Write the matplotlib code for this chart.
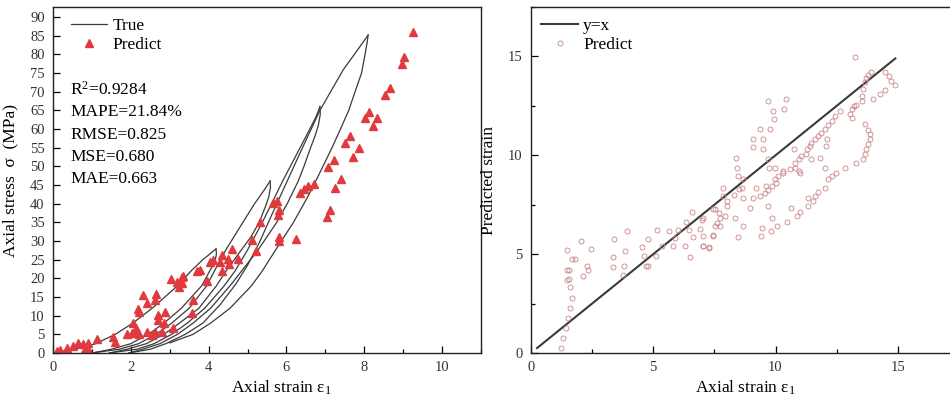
import numpy as np
import matplotlib
matplotlib.use("Agg")
import matplotlib.pyplot as plt
from matplotlib.ticker import MultipleLocator

plt.rcParams['font.family'] = ['Liberation Serif', 'DejaVu Serif']
plt.rcParams['mathtext.fontset'] = 'custom'
plt.rcParams['mathtext.rm'] = 'Liberation Serif'
plt.rcParams['mathtext.it'] = 'Liberation Serif:italic'

# ---- left panel: cyclic loading curve, (strain, stress) points of each branch
load_1 = [(0, 0), (0.55, 1), (1.1, 2.5), (1.6, 5), (2.05, 8), (2.55, 12), (3.2, 18),
          (3.55, 22), (3.85, 25), (4.19, 27.9)]
unload_1 = [(4.19, 27.9), (4.2, 26.5), (4.17, 25), (4.11, 23.5), (4.03, 22), (3.82, 18),
            (3.3, 12), (2.85, 8), (2.45, 5), (2.0, 2.5), (1.5, 1), (1.0, 0)]
load_2 = [(1.0, 0), (1.7, 1), (2.2, 2.5), (2.65, 5), (3.05, 8), (3.5, 12), (3.95, 18),
          (4.15, 22), (4.44, 27.6), (4.88, 35), (5.18, 40), (5.45, 44), (5.58, 46.1)]
unload_2 = [(5.58, 46.1), (5.59, 44.5), (5.55, 42), (5.47, 39.5), (5.3, 35), (5.08, 31),
            (4.84, 27.6), (4.45, 22), (4.2, 18), (3.75, 12), (3.25, 8), (2.85, 5), (2.4, 2.5),
            (1.9, 1), (1.45, 0)]
load_3 = [(1.45, 0), (2.15, 1), (2.6, 2.5), (3.05, 5), (3.45, 8), (3.9, 12), (4.4, 18),
          (4.68, 22), (5.0, 27.6), (5.38, 35), (5.9, 46), (6.35, 55), (6.6, 60), (6.77, 63.5),
          (6.86, 66)]
unload_3 = [(6.86, 66), (6.87, 64), (6.82, 61), (6.73, 58), (6.62, 55), (6.45, 50), (6.3, 46),
            (6.02, 40), (5.75, 35), (5.27, 27.6), (4.85, 22), (4.55, 18), (4.05, 12), (3.6, 8),
            (3.2, 5), (2.75, 2.5), (2.3, 1), (1.95, 0)]
load_4 = [(1.95, 0), (2.5, 1), (2.9, 2.5), (3.4, 5), (3.85, 8), (4.3, 13), (4.7, 18.5),
          (5.0, 23.5), (5.3, 29.5), (5.6, 36.5), (5.95, 44.5), (6.35, 53.6), (6.86, 65),
          (7.46, 75.9), (7.8, 80.8), (8.1, 85.2)]
unload_4 = [(8.1, 85.2), (8.07, 83), (8.02, 80), (7.93, 75), (7.81, 71.4), (7.6, 65),
            (7.38, 59.8), (7.17, 55), (6.98, 50.9), (6.75, 46), (6.55, 41.9), (6.18, 35),
            (5.72, 27.6), (5.38, 22), (5.1, 18), (4.55, 12), (4.05, 8), (3.6, 5), (3.0, 2.7)]

pred_strain = [9.25, 9.02, 8.97, 8.66, 8.54, 8.13, 8.02, 8.32, 8.23, 7.64, 7.50, 7.87, 7.70,
               7.22, 7.07, 7.40, 7.26, 7.12, 7.05, 6.35, 6.45, 6.55, 6.70,
               5.66, 5.75, 5.81, 5.77, 5.32, 5.11, 5.81, 5.81, 6.25, 5.22, 4.59, 4.76, 4.51,
               4.34, 4.29, 4.53, 4.04, 4.12, 4.34, 3.78, 3.95, 3.69, 3.33, 3.31, 3.59, 3.56,
               3.03, 3.18, 3.31, 3.25, 2.32, 2.65, 2.62, 2.41, 2.18, 2.22, 2.71, 2.88, 2.85,
               2.71, 3.09, 2.06, 2.13, 2.17, 2.22, 1.89, 2.02, 2.41, 2.62, 2.79, 2.54, 1.55,
               1.59, 1.12, 0.91, 0.78, 0.82, 0.93, 0.52, 0.35, 0.18, 0.10, 0.65]
pred_stress = [85.9, 79.4, 77.5, 71.0, 69.2, 64.7, 63.1, 62.9, 60.7, 58.2, 56.4, 54.9, 52.5,
               51.7, 49.9, 46.6, 44.1, 38.3, 36.4, 42.9, 44.0, 44.8, 45.3,
               40.3, 40.6, 38.3, 37.0, 35.2, 30.3, 31.0, 30.0, 30.5, 27.2, 27.9, 25.1, 25.1,
               26.3, 24.5, 23.9, 24.5, 24.9, 22.1, 22.3, 19.4, 22.0, 20.5, 18.7, 14.2, 10.8,
               19.8, 19.1, 20.3, 17.8, 15.6, 15.8, 14.2, 13.5, 11.7, 11.1, 10.2, 11.1, 8.0,
               8.8, 6.8, 8.1, 6.6, 5.7, 5.0, 5.1, 5.4, 5.7, 5.7, 5.7, 4.8, 4.4,
               3.0, 3.7, 2.8, 2.3, 1.0, 0.4, 1.9, 1.3, 0.8, 0.4, 2.6]

metrics = ["R$^2$=0.9284", "MAPE=21.84%", "RMSE=0.825", "MSE=0.680", "MAE=0.663"]

# ---- right panel: true strain vs predicted strain
line_x = [0.25, 14.9]
true_eps = [1.21, 1.30, 1.43, 1.53, 1.59, 1.66, 1.59, 1.48, 1.55, 1.46, 1.54, 1.46, 1.66, 1.80,
            2.04, 2.14, 2.28, 2.34, 2.44, 3.34, 3.34, 3.39, 3.81, 3.75, 3.84, 3.94, 4.56, 4.62,
            4.70, 4.80, 4.80, 5.11, 5.16, 5.34, 5.65, 5.82, 5.88, 6.02, 6.29, 6.33, 6.47, 6.57,
            6.50, 6.61, 6.91, 6.98, 7.02, 7.04, 7.29, 7.45, 7.52, 7.59,
            13.24, 13.89, 13.78, 13.72, 13.65, 14.47, 14.64, 14.74, 14.88, 14.49, 14.26, 13.99,
            13.58, 13.55, 13.55, 13.31, 13.20, 13.11, 13.04, 13.11, 12.63, 12.42, 12.29, 12.15,
            12.01, 11.88, 11.74, 11.61, 11.47, 11.40, 11.29, 11.24, 11.06, 10.95, 10.79, 10.58,
            10.31, 10.11, 9.97, 10.04, 9.84, 9.70, 9.56,
            9.70, 10.42, 9.88, 10.34, 9.93, 9.36, 9.77, 9.06, 9.47, 9.06, 9.49, 8.38, 8.41, 8.47,
            7.86, 8.61, 8.68, 10.76,
            13.65, 13.78, 13.88, 13.85, 13.78, 13.72, 13.65, 13.58, 13.31, 12.83, 12.49, 12.29,
            12.15, 12.01, 11.74, 11.61, 11.33, 10.99, 11.47, 11.81, 12.01, 12.08, 12.12,
            9.70, 9.74, 9.97, 10.31, 10.79, 10.95, 9.22, 9.36, 9.63, 8.68, 9.08, 7.86,
            7.04, 7.45, 7.72, 7.93, 8.00, 7.52, 7.72, 7.45, 7.04, 7.29, 8.34, 8.68, 8.45, 8.95,
            9.43, 9.39, 9.84, 9.80, 10.07, 9.70, 10.48, 10.65, 10.86, 10.99, 11.33, 11.54,
            7.70, 8.00, 8.30, 8.50]
pred_eps = [0.24, 0.75, 1.25, 1.76, 2.27, 2.78, 3.33, 3.70, 3.75, 4.20, 4.18, 5.19, 4.76, 4.76,
            5.69, 3.91, 4.38, 4.18, 5.26, 4.84, 4.33, 5.77, 4.38, 3.96, 5.18, 6.19, 5.35, 4.89,
            4.42, 4.38, 5.77, 4.89, 6.21, 5.40, 6.16, 5.40, 5.82, 6.21, 5.40, 6.61, 6.24, 7.12,
            4.86, 5.87, 6.28, 6.75, 5.40, 5.90, 5.37, 5.99, 7.26, 6.58,
            14.96, 14.23, 14.06, 13.89, 13.69, 14.23, 14.00, 13.77, 13.55, 13.32, 13.10, 12.84,
            13.35, 13.01, 12.76, 12.54, 12.47, 12.34, 12.08, 11.91, 12.25, 11.99, 11.74, 11.52,
            11.32, 11.15, 10.98, 10.81, 10.64, 10.47, 10.30, 10.05, 9.96, 9.80, 9.63, 9.29,
            9.12, 8.95, 8.78, 8.61, 8.44, 8.27, 8.11,
            12.76, 12.84, 12.25, 12.34, 11.86, 11.35, 11.35, 10.85, 10.85, 10.44, 10.34, 9.88,
            9.38, 8.95, 8.36, 8.36, 8.82, 10.34,
            11.57, 11.28, 11.07, 10.81, 10.56, 10.30, 10.05, 9.83, 9.63, 9.38, 9.12, 8.95,
            8.78, 8.36, 8.14, 7.93, 7.85, 9.12, 9.80, 9.88, 9.38, 10.47, 10.81,
            9.80, 9.38, 9.38, 9.20, 9.38, 9.20, 8.36, 7.93, 8.44, 7.85, 7.85, 7.93,
            6.84, 7.26, 6.84, 6.92, 7.43, 6.41, 6.41, 5.90, 5.40, 5.31, 6.84, 6.41, 5.85, 7.35,
            6.33, 5.90, 6.84, 6.16, 6.41, 7.43, 6.61, 7.35, 6.95, 7.12, 7.43, 7.68,
            7.10, 7.70, 8.00, 8.30]

line_color = '#3a3a3a'
tri_color = '#e0393e'
circ_color = '#c98585'
tick_color = '#333333'

fig = plt.figure(figsize=(9.5, 4.07), dpi=100)
ax1 = fig.add_axes([0.0558, 0.1327, 0.4505, 0.850])
ax2 = fig.add_axes([0.5589, 0.1327, 0.4505, 0.850])

# left
branches = [load_1, unload_1, load_2, unload_2, load_3, unload_3, load_4, unload_4]
for i, br in enumerate(branches):
    bx, by = zip(*br)
    ax1.plot(bx, by, color=line_color, lw=0.9, solid_joinstyle='round',
             label='True' if i == 0 else None)
ax1.plot(pred_strain, pred_stress, ls='none', marker='^', ms=5.5, color=tri_color,
         mec=tri_color, label='Predict')
ax1.set_xlim(0, 11)
ax1.set_ylim(0, 92.7)
ax1.xaxis.set_major_locator(MultipleLocator(2))
ax1.xaxis.set_minor_locator(MultipleLocator(1))
ax1.yaxis.set_major_locator(MultipleLocator(5))
ax1.set_xlabel('Axial strain ε$_1$', fontsize=12.5)
ax1.xaxis.set_label_coords(0.533, -0.075)
ax1.set_ylabel('Axial stress  σ  (MPa)', fontsize=12.5)
ax1.yaxis.set_label_coords(-0.082, 0.5)
ax1.legend(loc='upper left', bbox_to_anchor=(0.025, 0.99), frameon=False, fontsize=12.5,
           handlelength=2.1, handletextpad=0.3, borderaxespad=0, labelspacing=0.2)
for k, t in enumerate(metrics):
    ax1.text(0.04, 0.760 - k * 0.0645, t, transform=ax1.transAxes, fontsize=12.5,
             va='center', ha='left')

# right
ax2.plot(line_x, line_x, color=line_color, lw=1.5, label='y=x')
ax2.plot(true_eps, pred_eps, ls='none', marker='o', ms=3.6, mfc='none', mec=circ_color,
         mew=0.6, label='Predict')
ax2.set_xlim(0, 17.5)
ax2.set_ylim(0, 17.5)
ax2.xaxis.set_major_locator(MultipleLocator(5))
ax2.xaxis.set_minor_locator(MultipleLocator(2.5))
ax2.yaxis.set_major_locator(MultipleLocator(5))
ax2.yaxis.set_minor_locator(MultipleLocator(2.5))
ax2.set_xlabel('Axial strain ε$_1$', fontsize=12.5)
ax2.xaxis.set_label_coords(0.5, -0.075)
ax2.set_ylabel('Predicted strain', fontsize=12.5)
ax2.yaxis.set_label_coords(-0.079, 0.5)
ax2.legend(loc='upper left', frameon=False, fontsize=12.5, handlelength=2.1,
           handletextpad=0.3, borderaxespad=0.2, labelspacing=0.2)

for ax in (ax1, ax2):
    for s in ax.spines.values():
        s.set_linewidth(1.0)
        s.set_color('#222222')
    ax.tick_params(which='both', direction='in', labelsize=10.5, labelcolor=tick_color,
                   pad=6, top=False, right=False)
    ax.tick_params(which='major', length=5, width=0.9)
    ax.tick_params(which='minor', length=3, width=0.9)

fig.savefig('out.png', dpi=100)
